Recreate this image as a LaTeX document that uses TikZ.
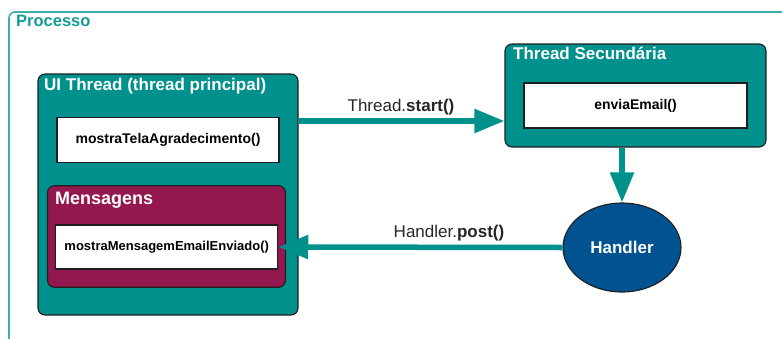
\documentclass[tikz,border=0pt]{standalone}
\usepackage{fontspec}
\setmainfont{Liberation Sans}
\usetikzlibrary{arrows.meta,shapes.geometric,calc}
\definecolor{tealfill}{RGB}{0,145,140}
\definecolor{tealline}{RGB}{60,175,170}
\definecolor{tealtext}{RGB}{20,155,150}
\definecolor{maroon}{RGB}{148,24,80}
\definecolor{handlerblue}{RGB}{0,82,145}
\definecolor{edge}{RGB}{30,30,30}
\tikzset{
  container/.style={draw=edge, line width=1.1pt, rounded corners=7pt, inner sep=0pt},
  methodbox/.style={draw=edge, line width=1.1pt, fill=white, inner sep=0pt,
    font=\fontsize{13}{15}\selectfont\bfseries, text=black},
  titletext/.style={anchor=base west, inner sep=0pt, text=white,
    font=\fontsize{17}{20}\selectfont\bfseries},
  flow/.style={draw=tealfill, line width=5.5pt, -{Triangle[length=30pt,width=23pt]}},
  flowlabel/.style={anchor=base, inner sep=0pt, text=black!85,
    font=\fontsize{17}{20}\selectfont},
}
\begin{document}
\begin{tikzpicture}[x=1pt,y=-1pt]
\useasboundingbox (0,0) rectangle (782,338);
% Processo frame
\draw[tealline, line width=1.6pt, rounded corners=6pt] (9,340) -- (9,12) -- (784,12);
\node[anchor=base west, inner sep=0pt, text=tealtext, font=\fontsize{16.5}{20}\selectfont\bfseries] (proc) at (16,26.5) {Processo};

% UI Thread
\node[container, fill=tealfill, minimum width=260pt, minimum height=241pt] (ui) at (168,194.5) {};
\node[titletext] (uit) at (44,90) {UI Thread (thread principal)};
\node[methodbox, minimum width=222pt, minimum height=45.5pt, font=\fontsize{14}{16}\selectfont\bfseries] (mt) at (168,140) {mostraTelaAgradecimento()};
% Mensagens
\node[container, fill=maroon, minimum width=238pt, minimum height=101.5pt] (msg) at (166.5,236.5) {};
\node[titletext, font=\fontsize{18}{20}\selectfont\bfseries] (msgt) at (55,204) {Mensagens};
\node[methodbox, minimum width=222pt, minimum height=44pt] (mm) at (166.7,247) {mostraMensagemEmailEnviado()};

% Thread Secundaria
\node[container, fill=tealfill, minimum width=261pt, minimum height=103pt] (ts) at (635.5,95.5) {};
\node[titletext] (tst) at (513,59) {Thread Secundária};
\node[methodbox, minimum width=223pt, minimum height=45pt, font=\fontsize{14}{16}\selectfont\bfseries] (ee) at (635.5,105.5) {enviaEmail()};

% Handler
\node[ellipse, draw=edge, line width=1.1pt, fill=handlerblue, minimum width=118pt, minimum height=89pt,
  inner sep=0pt, text=white, font=\fontsize{17}{20}\selectfont\bfseries] (h) at (622,247.5) {Handler};

% connectors
\draw[flow] ([yshift=73.5pt]ui.east) -- ([yshift=73.5pt]ui.east -| ts.west);
\draw[flow] (ts.south -| h.north) -- (h.north);
\draw[flow] (h.west) -- (mm.east);

\node[flowlabel] (l1) at (401,111) {Thread.\textbf{start()}};
\node[flowlabel] (l2) at (449,237) {Handler.\textbf{post()}};
\end{tikzpicture}
\end{document}
